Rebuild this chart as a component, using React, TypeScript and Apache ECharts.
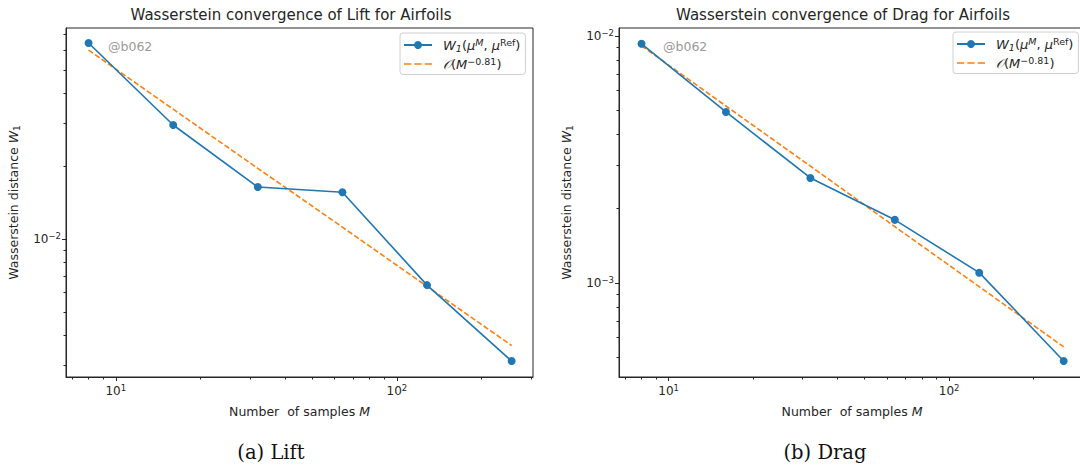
import React, { useEffect, useRef } from 'react';
import * as echarts from 'echarts';

// ---------- data ----------
const samplesM = [8, 16, 32, 64, 128, 256];
const liftW1 = [0.0646, 0.0296, 0.0164, 0.0156, 0.00645, 0.00313];
const liftFit = [0.0604, 0.0344, 0.0196, 0.0112, 0.00637, 0.00363];
const dragW1 = [0.00929, 0.00492, 0.00266, 0.0018, 0.0011, 0.000483];
const dragFit = [0.00912, 0.0052, 0.00297, 0.00169, 0.000965, 0.000551];

const xMajorTicks = [10, 100];
const xMinorTicks = [7, 8, 9, 20, 30, 40, 50, 60, 70, 80, 90, 200, 300];
const liftYMajorTicks = [0.01];
const liftYMinorTicks = [0.003, 0.004, 0.005, 0.006, 0.007, 0.008, 0.009, 0.02, 0.03, 0.04, 0.05, 0.06, 0.07];
const dragYMajorTicks = [0.001, 0.01];
const dragYMinorTicks = [0.0005, 0.0006, 0.0007, 0.0008, 0.0009, 0.002, 0.003, 0.004, 0.005, 0.006, 0.007, 0.008, 0.009];

const xRange = [6.65, 305];
const liftYRange = [0.00269, 0.0745];
const dragYRange = [0.000416, 0.01076];

const titles = ['Wasserstein convergence of Lift for Airfoils', 'Wasserstein convergence of Drag for Airfoils'];
const captions = ['(a) Lift', '(b) Drag'];
const watermark = '@b062';

// ---------- styles ----------
const FONT = 'DejaVu Sans';
const INK = '#262626';
const BLUE = '#1f77b4';
const ORANGE = '#ff7f0e';

const tickRich = {
  b: { fontSize: 12, fontFamily: FONT, color: INK, lineHeight: 15 },
  s: { fontSize: 8.5, fontFamily: FONT, color: INK, lineHeight: 8, verticalAlign: 'top' },
};

const tickFmt = (v: number) => {
  const e = Math.round(Math.log10(v));
  if (Math.abs(v / Math.pow(10, e) - 1) > 1e-6) return '';
  const s = e < 0 ? '−' + -e : String(e);
  return `{b|10}{s|${s}}`;
};

const nameRich = {
  i: { fontSize: 12.5, fontFamily: FONT, fontStyle: 'italic', color: INK, lineHeight: 16 },
  sub: { fontSize: 9, fontFamily: FONT, color: INK, lineHeight: 8, verticalAlign: 'bottom' },
};

const LF = 13;
const legendRich = {
  n: { fontSize: LF, fontFamily: FONT, color: INK, lineHeight: 16 },
  i: { fontSize: LF, fontFamily: FONT, fontStyle: 'italic', color: INK, lineHeight: 16 },
  sub: { fontSize: 9.5, fontFamily: FONT, fontStyle: 'italic', color: INK, lineHeight: 8, verticalAlign: 'bottom' },
  sup: { fontSize: 9.5, fontFamily: FONT, color: INK, lineHeight: 8, verticalAlign: 'top' },
  supi: { fontSize: 9.5, fontFamily: FONT, fontStyle: 'italic', color: INK, lineHeight: 8, verticalAlign: 'top' },
};

const legendLabels: Record<string, string> = {};

function buildAxes(gridIndex: number, yRange: number[], yMajor: number[], yMinor: number[]) {
  const xMain = {
    type: 'log', logBase: 10, gridIndex, min: xRange[0], max: xRange[1],
    axisLine: { show: true, lineStyle: { color: INK, width: 1 } },
    axisTick: { show: true, inside: false, length: 4, customValues: xMajorTicks, lineStyle: { color: INK } },
    axisLabel: { show: true, margin: 6, customValues: xMajorTicks, formatter: tickFmt, rich: tickRich },
    splitLine: { show: false }, minorTick: { show: false },
    name: 'Number  of samples {i|M}', nameLocation: 'middle', nameGap: 26,
    nameTextStyle: { fontSize: 12.5, fontFamily: FONT, color: INK, lineHeight: 16, rich: nameRich },
  };
  const xMinor = {
    type: 'log', logBase: 10, gridIndex, min: xRange[0], max: xRange[1], position: 'bottom',
    axisLine: { show: false },
    axisTick: { show: true, inside: false, length: 2.5, customValues: xMinorTicks, lineStyle: { color: INK } },
    axisLabel: { show: false }, splitLine: { show: false },
  };
  const yMain = {
    type: 'log', logBase: 10, gridIndex, min: yRange[0], max: yRange[1],
    axisLine: { show: true, lineStyle: { color: INK, width: 1 } },
    axisTick: { show: true, inside: false, length: 4, customValues: yMajor, lineStyle: { color: INK } },
    axisLabel: { show: true, margin: 5, customValues: yMajor, formatter: tickFmt, rich: tickRich },
    splitLine: { show: false }, minorTick: { show: false },
    name: 'Wasserstein distance {i|W}{sub|1}', nameLocation: 'middle', nameGap: 45,
    nameTextStyle: { fontSize: 12.5, fontFamily: FONT, color: INK, lineHeight: 16, rich: nameRich },
  };
  const yMinorAx = {
    type: 'log', logBase: 10, gridIndex, min: yRange[0], max: yRange[1], position: 'left',
    axisLine: { show: false },
    axisTick: { show: true, inside: false, length: 2.5, customValues: yMinor, lineStyle: { color: INK } },
    axisLabel: { show: false }, splitLine: { show: false },
  };
  return { x: [xMain, xMinor], y: [yMain, yMinorAx] };
}

// dashed-line legend icon (three short dashes)
const DASH_ICON = 'path://M0,4.2h7v1.6h-7z M10,4.2h7v1.6h-7z M20,4.2h7v1.6h-7z';

export default function App() {
  const ref = useRef<HTMLDivElement>(null);
  useEffect(() => {
    if (!ref.current) return;
    const chart = echarts.init(ref.current, undefined, { renderer: 'svg' });

    const a0 = buildAxes(0, liftYRange, liftYMajorTicks, liftYMinorTicks);
    const a1 = buildAxes(1, dragYRange, dragYMajorTicks, dragYMinorTicks);

    const wLabel = '{i|W}{sub|1}{n|(}{i|μ}{supi|M}{n|, }{i|μ}{sup|Ref}{n|)}';
    const fitLabel = '{i|𝒪}{n|(}{i|M}{sup|−0.81}{n|)}';
    legendLabels['W1 lift'] = wLabel;
    legendLabels['fit lift'] = fitLabel;
    legendLabels['W1 drag'] = wLabel;
    legendLabels['fit drag'] = fitLabel;

    const mkW = (name: string, idx: number, vals: number[]) => ({
      name, type: 'line', xAxisIndex: idx * 2, yAxisIndex: idx * 2,
      data: samplesM.map((m, i) => [m, vals[i]]),
      symbol: 'circle', symbolSize: 8, showSymbol: true,
      lineStyle: { color: BLUE, width: 1.6 }, itemStyle: { color: BLUE },
      z: 3,
    });
    const mkFit = (name: string, idx: number, vals: number[]) => ({
      name, type: 'line', xAxisIndex: idx * 2, yAxisIndex: idx * 2,
      data: samplesM.map((m, i) => [m, vals[i]]),
      symbol: 'none', showSymbol: false,
      lineStyle: { color: ORANGE, width: 1.6, type: [5.5, 2.4] }, itemStyle: { color: ORANGE },
      z: 2,
    });

    const legendBase = {
      orient: 'vertical', itemWidth: 28, itemHeight: 10, itemGap: 3,
      backgroundColor: 'rgba(255,255,255,0.85)', borderColor: '#d0d0d0', borderWidth: 1, borderRadius: 3,
      padding: [4, 5, 4, 3],
      formatter: (name: string) => legendLabels[name] || name,
      textStyle: { fontSize: LF, fontFamily: FONT, color: INK, rich: legendRich, padding: [0, 0, 0, 6] },
      selectedMode: false,
    };

    const textEl = (text: string, x: number, y: number, size: number, color: string, family: string, align = 'center') => ({
      type: 'text', x, y, silent: true,
      style: { text, fontSize: size, fontFamily: family, fill: color, align, verticalAlign: 'middle' },
    });

    chart.setOption({
      animation: false,
      backgroundColor: '#ffffff',
      grid: [
        { left: 66, top: 28, width: 467, height: 349, show: true, borderColor: INK, borderWidth: 1, backgroundColor: 'transparent', containLabel: false, outerBoundsMode: 'none' },
        { left: 619, top: 28, width: 466, height: 349, show: true, borderColor: INK, borderWidth: 1, backgroundColor: 'transparent', containLabel: false, outerBoundsMode: 'none' },
      ],
      xAxis: [...a0.x, ...a1.x],
      yAxis: [...a0.y, ...a1.y],
      legend: [
        { ...legendBase, left: 400, top: 33, data: ['W1 lift', { name: 'fit lift', icon: DASH_ICON }] },
        { ...legendBase, left: 953, top: 32, data: ['W1 drag', { name: 'fit drag', icon: DASH_ICON }] },
      ],
      series: [
        mkFit('fit lift', 0, liftFit),
        mkW('W1 lift', 0, liftW1),
        mkFit('fit drag', 1, dragFit),
        mkW('W1 drag', 1, dragW1),
      ],
      graphic: [
        textEl(titles[0], 291, 15, 15, INK, FONT),
        textEl(titles[1], 843, 15, 15, INK, FONT),
        textEl(watermark, 108, 46, 12.5, '#9a9a9a', FONT, 'left'),
        textEl(watermark, 663, 46, 12.5, '#9a9a9a', FONT, 'left'),
        textEl(captions[0], 271, 452, 19.5, '#111', 'DejaVu Serif'),
        textEl(captions[1], 825, 452, 19.5, '#111', 'DejaVu Serif'),
      ],
    });
    return () => chart.dispose();
  }, []);
  return <div ref={ref} style={{ position: 'absolute', left: 0, top: 0, width: 1080, height: 468 }} />;
}
